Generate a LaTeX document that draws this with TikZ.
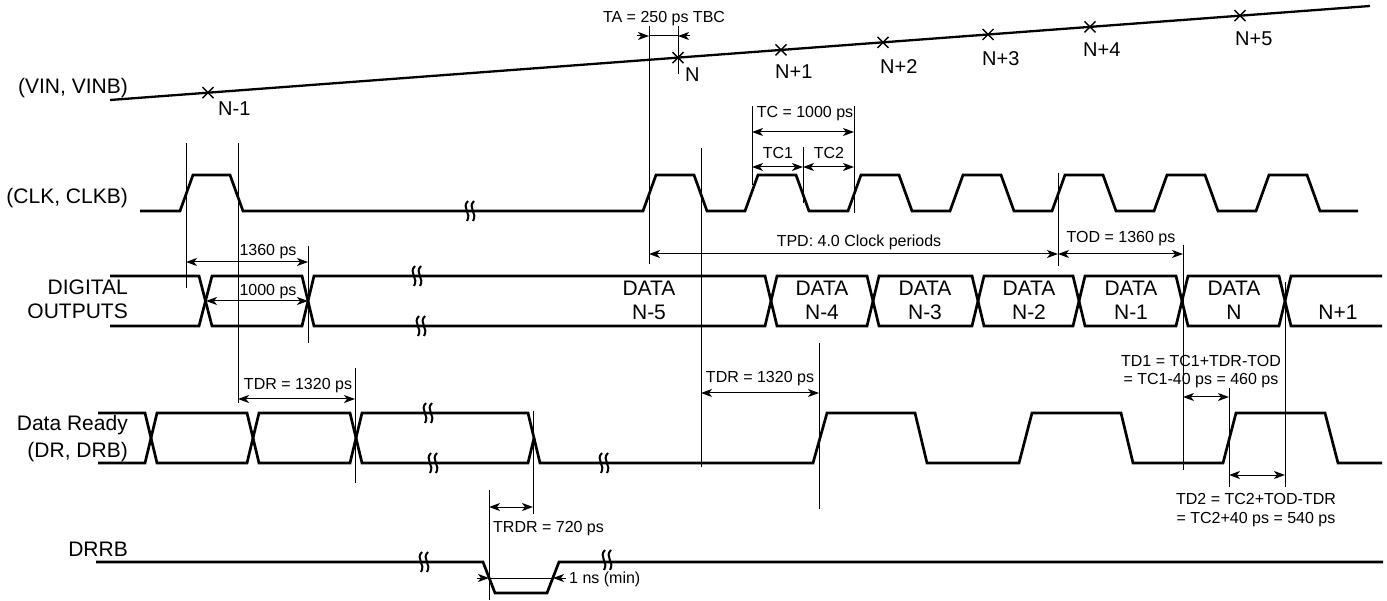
\documentclass[tikz,border=0pt]{standalone}
\usepackage{fontspec}
\setmainfont{Liberation Sans}
\usetikzlibrary{arrows.meta}
\begin{document}
\begin{tikzpicture}[x=1pt,y=-1pt,
  sig/.style={line width=2.7pt, line join=miter},
  vinline/.style={line width=2.3pt},
  thin/.style={line width=1pt},
  dim/.style={line width=1pt, {Stealth[length=11pt,width=8pt,inset=3pt]}-{Stealth[length=11pt,width=8pt,inset=3pt]}},
  half/.style={line width=1pt, -{Stealth[length=11pt,width=8pt,inset=3pt]}},
  big/.style={font=\fontsize{21}{25}\selectfont, inner sep=0pt},
  small/.style={font=\fontsize{16}{19}\selectfont, inner sep=0pt, anchor=base},
  nlab/.style={font=\fontsize{20}{24}\selectfont, inner sep=0pt, anchor=base west},
  xm/.pic={\draw[line width=1.4pt] (-5.5,-5.5)--(5.5,5.5) (-5.5,5.5)--(5.5,-5.5);},
  brk/.pic={\draw[line width=2pt] (-2,-10) .. controls (-9,-3) and (2,2) .. (-3,10);
            \draw[line width=2pt] (4,-10) .. controls (-3,-3) and (8,2) .. (3,10);}
]
\useasboundingbox (0,0) rectangle (1387,601);

% ---------- signal labels ----------
\node[big, anchor=base east] (lvin) at (128,94) {(VIN, VINB)};
\node[big, anchor=base east] (lclk) at (128,204) {(CLK, CLKB)};
\node[big, anchor=base east] (ldo1) at (128,295) {DIGITAL};
\node[big, anchor=base east] (ldo2) at (128,319) {OUTPUTS};
\node[big, anchor=base east] (ldr1) at (128,431) {Data Ready};
\node[big, anchor=base east] (ldr2) at (128,457) {(DR, DRB)};
\node[big, anchor=base east] (ldrrb) at (128,556) {DRRB};

% ---------- VIN ----------
\draw[vinline] (110,100) -- (1370,6);
\pic at (208,92.7) {xm};
\pic at (678,57.6) {xm};
\pic at (781,49.9) {xm};
\pic at (883,42.3) {xm};
\pic at (988,34.5) {xm};
\pic at (1090,26.9) {xm};
\pic at (1240,15.7) {xm};
\node[nlab] (n0) at (218,116) {N-1};
\node[nlab] (n1) at (685,82) {N};
\node[nlab] (n2) at (775,79) {N+1};
\node[nlab] (n3) at (880,74) {N+2};
\node[nlab] (n4) at (982,66) {N+3};
\node[nlab] (n5) at (1083,57) {N+4};
\node[nlab] (n6) at (1235,46) {N+5};

% ---------- CLK ----------
\draw[sig] (140,211)--(180,211)--(193,175)--(230,175)--(243,211)--(643,211)--(656,175)--(694,175)--(707,211)
  --(745,211)--(758,175)--(796,175)--(809,211)--(848,211)--(861,175)--(899,175)--(912,211)
  --(950,211)--(963,175)--(1001,175)--(1014,211)--(1052,211)--(1065,175)--(1103,175)--(1116,211)
  --(1154,211)--(1167,175)--(1205,175)--(1218,211)--(1256,211)--(1269,175)--(1307,175)--(1320,211)--(1358,211);
\pic at (470,211) {brk};

% ---------- DIGITAL OUTPUTS ----------
\draw[sig] (110,276)--(199,276)--(212,326)--(302,326)--(314,276)--(765,276)--(777,326)--(867,326)--(879,276)
  --(972,276)--(984,326)--(1073,326)--(1085,276)--(1176,276)--(1188,326)--(1279,326)--(1291,276)--(1382,276);
\draw[sig] (110,326)--(199,326)--(212,276)--(302,276)--(314,326)--(765,326)--(777,276)--(867,276)--(879,326)
  --(972,326)--(984,276)--(1073,276)--(1085,326)--(1176,326)--(1188,276)--(1279,276)--(1291,326)--(1382,326);
\pic at (417,276) {brk};
\pic at (421,326) {brk};
\node[big, anchor=base] (d5a) at (649,296) {DATA};
\node[big, anchor=base] (d5b) at (649,320) {N-5};
\node[big, anchor=base] (d4a) at (822,296) {DATA};
\node[big, anchor=base] (d4b) at (822,320) {N-4};
\node[big, anchor=base] (d3a) at (925,296) {DATA};
\node[big, anchor=base] (d3b) at (925,320) {N-3};
\node[big, anchor=base] (d2a) at (1029,296) {DATA};
\node[big, anchor=base] (d2b) at (1029,320) {N-2};
\node[big, anchor=base] (d1a) at (1131,296) {DATA};
\node[big, anchor=base] (d1b) at (1131,320) {N-1};
\node[big, anchor=base] (d0a) at (1234,296) {DATA};
\node[big, anchor=base] (d0b) at (1234,320) {N};
\node[big, anchor=base] (dp1) at (1338,320) {N+1};

% ---------- DATA READY ----------
\draw[sig] (98,413)--(145,413)--(157,463)--(247,463)--(259,413)--(350,413)--(362,463)--(528,463)--(534,438);
\draw[sig] (98,463)--(145,463)--(157,413)--(247,413)--(259,463)--(350,463)--(362,413)--(528,413)--(540,463)
  --(813,463)--(827,413)--(915,413)--(927,463)--(1019,463)--(1032,413)--(1121,413)--(1133,463)
  --(1223,463)--(1236,413)--(1325,413)--(1338,463)--(1382,463);
\pic at (428,413) {brk};
\pic at (433,463) {brk};
\pic at (604,463) {brk};

% ---------- DRRB ----------
\draw[sig] (96,562)--(483,562)--(495,593)--(547,593)--(559,562)--(1383,562);
\pic at (424,562) {brk};
\pic at (607,560) {brk};

% ---------- reference lines ----------
\draw[thin] (186,143)--(186,288);
\draw[thin] (238,143)--(238,403);
\draw[thin] (649,26)--(649,264);
\draw[thin] (678,26)--(678,74);
\draw[thin] (701,148)--(701,467);
\draw[thin] (752,106)--(752,185);
\draw[thin] (803,147)--(803,203);
\draw[thin] (854,106)--(854,213);
\draw[thin] (1058,173)--(1058,266);
\draw[thin] (1183,245)--(1183,470);
\draw[thin] (1229,388)--(1229,487);
\draw[thin] (1285,282)--(1285,487);
\draw[thin] (308,246)--(308,343);
\draw[thin] (355,368)--(355,483);
\draw[thin] (533,411)--(533,514);
\draw[thin] (819,343)--(819,509);
\draw[thin] (489,490)--(489,600);

% ---------- dimensions ----------
\draw[half] (637,36)--(649,36);
\draw[thin] (649,36)--(678,36);
\draw[half] (690,36)--(678,36);
\node[small] (lta) at (664,23) {TA = 250 ps TBC};

\draw[dim] (752,132)--(854,132);
\node[small] (ltc) at (805,118) {TC = 1000 ps};
\draw[dim] (752,167)--(803,167);
\node[small] (ltc1) at (778,159) {TC1};
\draw[dim] (803,167)--(854,167);
\node[small] (ltc2) at (829,159) {TC2};

\draw[dim] (186,262)--(308,262);
\node[small] (l1360) at (268,256) {1360 ps};
\draw[dim] (206,301)--(308,301);
\node[small] (l1000) at (268,296) {1000 ps};

\draw[dim] (649,254)--(1058,254);
\node[small] (ltpd) at (859,247) {TPD: 4.0 Clock periods};
\draw[dim] (1058,254)--(1183,254);
\node[small] (ltod) at (1121,243) {TOD = 1360 ps};

\draw[dim] (238,399)--(355,399);
\node[small] (ltdr1) at (298,390) {TDR = 1320 ps};
\draw[dim] (701,393)--(819,393);
\node[small] (ltdr2) at (760,383) {TDR = 1320 ps};

\draw[dim] (1183,397)--(1229,397);
\node[small] (ltd1a) at (1201,367) {TD1 = TC1+TDR-TOD};
\node[small] (ltd1b) at (1201,385) {= TC1-40 ps = 460 ps};
\draw[dim] (1229,475)--(1285,475);
\node[small] (ltd2a) at (1256,504) {TD2 = TC2+TOD-TDR};
\node[small] (ltd2b) at (1256,523) {= TC2+40 ps = 540 ps};

\draw[dim] (489,507)--(533,507);
\node[small, anchor=base west] (ltrdr) at (493,532) {TRDR = 720 ps};

\draw[half] (477,578)--(489,578);
\draw[thin] (489,578)--(553,578);
\draw[half] (566,578)--(553,578);
\node[small, anchor=base west] (lmin) at (569,583) {1 ns (min)};
\end{tikzpicture}
\end{document}
